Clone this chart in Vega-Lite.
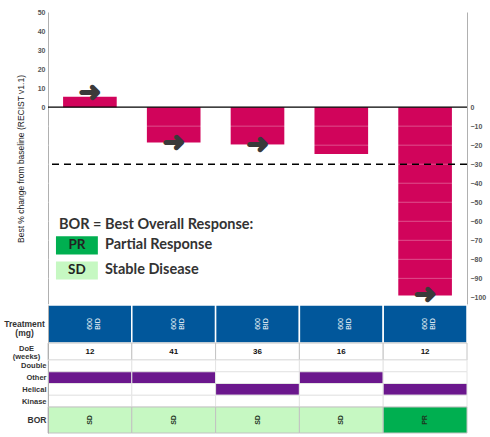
{
  "$schema": "https://vega.github.io/schema/vega-lite/v6.json",
  "padding": {"left": 3, "top": 8, "right": 2, "bottom": 2},
  "background": "white",
  "spacing": 0,
  "bounds": "flush",
  "config": {"view": {"stroke": null}, "font": "Liberation Sans"},
  "resolve": {"scale": {"fill": "independent", "color": "independent"}},
  "datasets": {
    "patients": [
      {"pt": "P1", "change": 5.4, "arrow": 7.5, "dose": "600|BID", "doe": 12, "bor": "SD"},
      {"pt": "P2", "change": -18.6, "arrow": -18.6, "dose": "600|BID", "doe": 41, "bor": "SD"},
      {"pt": "P3", "change": -19.7, "arrow": -19.7, "dose": "600|BID", "doe": 36, "bor": "SD"},
      {"pt": "P4", "change": -24.7, "arrow": null, "dose": "600|BID", "doe": 16, "bor": "SD"},
      {"pt": "P5", "change": -99, "arrow": -99, "dose": "600|BID", "doe": 12, "bor": "PR"}
    ],
    "muts": [
      {"pt": "P1", "type": "Double", "has": "no"}, {"pt": "P1", "type": "Other", "has": "yes"}, {"pt": "P1", "type": "Helical", "has": "no"}, {"pt": "P1", "type": "Kinase", "has": "no"},
      {"pt": "P2", "type": "Double", "has": "no"}, {"pt": "P2", "type": "Other", "has": "yes"}, {"pt": "P2", "type": "Helical", "has": "no"}, {"pt": "P2", "type": "Kinase", "has": "no"},
      {"pt": "P3", "type": "Double", "has": "no"}, {"pt": "P3", "type": "Other", "has": "no"}, {"pt": "P3", "type": "Helical", "has": "yes"}, {"pt": "P3", "type": "Kinase", "has": "no"},
      {"pt": "P4", "type": "Double", "has": "no"}, {"pt": "P4", "type": "Other", "has": "yes"}, {"pt": "P4", "type": "Helical", "has": "no"}, {"pt": "P4", "type": "Kinase", "has": "no"},
      {"pt": "P5", "type": "Double", "has": "no"}, {"pt": "P5", "type": "Other", "has": "no"}, {"pt": "P5", "type": "Helical", "has": "yes"}, {"pt": "P5", "type": "Kinase", "has": "no"}
    ],
    "legend": [
      {"code": "PR", "desc": "Partial Response", "ytop": -67.9, "ybot": -77.4, "ymid": -72.65},
      {"code": "SD", "desc": "Stable Disease", "ytop": -81.1, "ybot": -90.6, "ymid": -85.85}
    ],
    "grid": [{"g": -10}, {"g": -20}, {"g": -30}, {"g": -40}, {"g": -50}, {"g": -60}, {"g": -70}, {"g": -80}, {"g": -90}]
  },
  "vconcat": [
    {
      "width": 419,
      "height": 293,
      "layer": [
        {
          "data": {"name": "patients"},
          "mark": {"type": "bar", "color": "#d1045b"},
          "encoding": {
            "x": {"field": "pt", "type": "nominal", "scale": {"domain": ["P1", "P2", "P3", "P4", "P5"], "paddingInner": 0.36, "paddingOuter": 0.18}, "axis": null},
            "y": {"field": "change", "type": "quantitative", "scale": {"domain": [-104, 50], "nice": false, "zero": false},
              "axis": {"orient": "left", "values": [0, 10, 20, 30, 40, 50], "grid": false, "ticks": false, "domainColor": "#b0b0b0", "labelFont": "Liberation Sans", "labelFontSize": 7, "labelFontWeight": "bold", "labelColor": "#555555", "labelPadding": 3,
                "title": "Best % change from baseline (RECIST v1.1)", "titleFont": "Liberation Sans", "titleFontSize": 8.5, "titleFontWeight": "normal", "titleColor": "#222222", "titlePadding": 12}}
          }
        },
        {
          "data": {"name": "grid"},
          "mark": {"type": "rule", "color": "white", "opacity": 0.3, "strokeWidth": 1},
          "encoding": {"y": {"field": "g", "type": "quantitative", "axis": null}}
        },
        {
          "data": {"values": [{"v": 0}]},
          "mark": {"type": "rule", "color": "black", "strokeWidth": 1.2},
          "encoding": {"y": {"field": "v", "type": "quantitative",
            "axis": {"orient": "right", "values": [0, -10, -20, -30, -40, -50, -60, -70, -80, -90, -100], "grid": false, "ticks": false, "domainColor": "#b0b0b0", "labelFont": "Liberation Sans", "labelFontSize": 7, "labelFontWeight": "bold", "labelColor": "#555555", "labelPadding": 3, "title": null}}}
        },
        {
          "data": {"values": [{"v": -30}]},
          "mark": {"type": "rule", "color": "black", "strokeWidth": 1.5, "strokeDash": [7, 5]},
          "encoding": {"y": {"field": "v", "type": "quantitative", "axis": null}}
        },
        {
          "data": {"name": "patients"},
          "transform": [{"filter": "isValid(datum.arrow)"}],
          "mark": {"type": "text", "text": "➜", "font": "DejaVu Sans", "fontSize": 27, "color": "#3a3a3a", "stroke": "#3a3a3a", "strokeWidth": 1.6, "strokeJoin": "round", "align": "center", "baseline": "middle"},
          "encoding": {
            "x": {"field": "pt", "type": "nominal", "scale": {"domain": ["P1", "P2", "P3", "P4", "P5"], "paddingInner": 0.36, "paddingOuter": 0.18}, "axis": null},
            "y": {"field": "arrow", "type": "quantitative", "axis": null}
          }
        },
        {
          "data": {"values": [{"t": "BOR = Best Overall Response:"}]},
          "mark": {"type": "text", "font": "Lato", "fontSize": 14.5, "fontWeight": "bold", "color": "#333333", "align": "left", "baseline": "middle"},
          "encoding": {
            "text": {"field": "t"},
            "x": {"datum": 2.6, "type": "quantitative", "scale": {"domain": [0, 100]}, "axis": null},
            "y": {"datum": -62.1, "type": "quantitative", "axis": null}
          }
        },
        {
          "data": {"name": "legend"},
          "mark": {"type": "rect"},
          "encoding": {
            "x": {"datum": 1.9, "type": "quantitative", "scale": {"domain": [0, 100]}, "axis": null},
            "x2": {"datum": 11.9},
            "y": {"field": "ytop", "type": "quantitative", "axis": null},
            "y2": {"field": "ybot"},
            "color": {"field": "code", "type": "nominal", "scale": {"domain": ["PR", "SD"], "range": ["#00af50", "#c6f8c2"]}, "legend": null}
          }
        },
        {
          "data": {"name": "legend"},
          "mark": {"type": "text", "font": "Lato", "fontSize": 13.5, "fontWeight": "bold", "color": "#222222", "align": "center", "baseline": "middle"},
          "encoding": {
            "text": {"field": "code"},
            "x": {"datum": 6.9, "type": "quantitative", "scale": {"domain": [0, 100]}, "axis": null},
            "y": {"field": "ymid", "type": "quantitative", "axis": null}
          }
        },
        {
          "data": {"name": "legend"},
          "mark": {"type": "text", "font": "Lato", "fontSize": 14.5, "fontWeight": "bold", "color": "#333333", "align": "left", "baseline": "middle"},
          "encoding": {
            "text": {"field": "desc"},
            "x": {"datum": 13.6, "type": "quantitative", "scale": {"domain": [0, 100]}, "axis": null},
            "y": {"field": "ymid", "type": "quantitative", "axis": null}
          }
        }
      ],
      "resolve": {"scale": {"x": "independent"}, "axis": {"y": "independent"}}
    },
    {
      "width": 419,
      "height": 38,
      "data": {"name": "patients"},
      "encoding": {
        "x": {"field": "pt", "type": "nominal", "scale": {"paddingInner": 0, "paddingOuter": 0}, "axis": null},
        "y": {"datum": "Treatment|(mg)", "type": "nominal", "scale": {"paddingInner": 0, "paddingOuter": 0},
          "axis": {"ticks": false, "domainColor": "#b0b0b0", "labelExpr": "split(datum.label, '|')", "labelFont": "Liberation Sans", "labelFontSize": 8.5, "labelFontWeight": "bold", "labelColor": "#333333", "labelAlign": "center", "labelPadding": 24, "labelLineHeight": 9, "title": null}}
      },
      "layer": [
        {"mark": {"type": "rect", "fill": "#01579b", "stroke": "white", "strokeWidth": 1.5}},
        {"mark": {"type": "text", "angle": 270, "lineBreak": "|", "font": "Liberation Sans", "fontSize": 7, "color": "white", "align": "center", "baseline": "middle", "lineHeight": 8},
          "encoding": {"text": {"field": "dose"}}}
      ]
    },
    {
      "width": 419,
      "height": 17,
      "data": {"name": "patients"},
      "encoding": {
        "x": {"field": "pt", "type": "nominal", "scale": {"paddingInner": 0, "paddingOuter": 0}, "axis": null},
        "y": {"datum": "DoE|(weeks)", "type": "nominal", "scale": {"paddingInner": 0, "paddingOuter": 0},
          "axis": {"ticks": false, "domainColor": "#b0b0b0", "labelExpr": "split(datum.label, '|')", "labelFont": "Liberation Sans", "labelFontSize": 7.5, "labelFontWeight": "bold", "labelColor": "#333333", "labelAlign": "center", "labelPadding": 22, "labelLineHeight": 7.5, "labelOffset": -2.5, "title": null}}
      },
      "layer": [
        {"mark": {"type": "rect", "fill": "white", "stroke": "#c4c4c4", "strokeWidth": 1}},
        {"mark": {"type": "text", "font": "Liberation Sans", "fontSize": 8, "fontWeight": "bold", "color": "#111111", "align": "center", "baseline": "middle"},
          "encoding": {"text": {"field": "doe"}}}
      ]
    },
    {
      "width": 419,
      "height": 47,
      "data": {"name": "muts"},
      "mark": {"type": "rect", "stroke": "#e4e4e4", "strokeWidth": 1},
      "encoding": {
        "x": {"field": "pt", "type": "nominal", "scale": {"paddingInner": 0, "paddingOuter": 0}, "axis": null},
        "y": {"field": "type", "type": "nominal", "sort": ["Double", "Other", "Helical", "Kinase"], "scale": {"paddingInner": 0, "paddingOuter": 0},
          "axis": {"ticks": false, "domainColor": "#b0b0b0", "labelFont": "Liberation Sans", "labelFontSize": 7.5, "labelFontWeight": "bold", "labelColor": "#333333", "labelPadding": 2, "labelOffset": 0.5, "title": null}},
        "fill": {"field": "has", "type": "nominal", "scale": {"domain": ["no", "yes"], "range": ["white", "#6b178d"]}, "legend": null}
      }
    },
    {
      "width": 419,
      "height": 26,
      "data": {"name": "patients"},
      "encoding": {
        "x": {"field": "pt", "type": "nominal", "scale": {"paddingInner": 0, "paddingOuter": 0}, "axis": null},
        "y": {"datum": "BOR", "type": "nominal", "scale": {"paddingInner": 0, "paddingOuter": 0},
          "axis": {"ticks": false, "domainColor": "#b0b0b0", "labelFont": "Liberation Sans", "labelFontSize": 8.5, "labelFontWeight": "bold", "labelColor": "#333333", "labelPadding": 2, "title": null}}
      },
      "layer": [
        {"mark": {"type": "rect", "stroke": "#c2c2c2", "strokeWidth": 1},
          "encoding": {"fill": {"field": "bor", "type": "nominal", "scale": {"domain": ["PR", "SD"], "range": ["#00af50", "#c6f8c2"]}, "legend": null}}},
        {"mark": {"type": "text", "angle": 270, "font": "Liberation Sans", "fontSize": 7, "fontWeight": "bold", "color": "#1e331e", "align": "center", "baseline": "middle"},
          "encoding": {"text": {"field": "bor"}}}
      ]
    }
  ]
}
